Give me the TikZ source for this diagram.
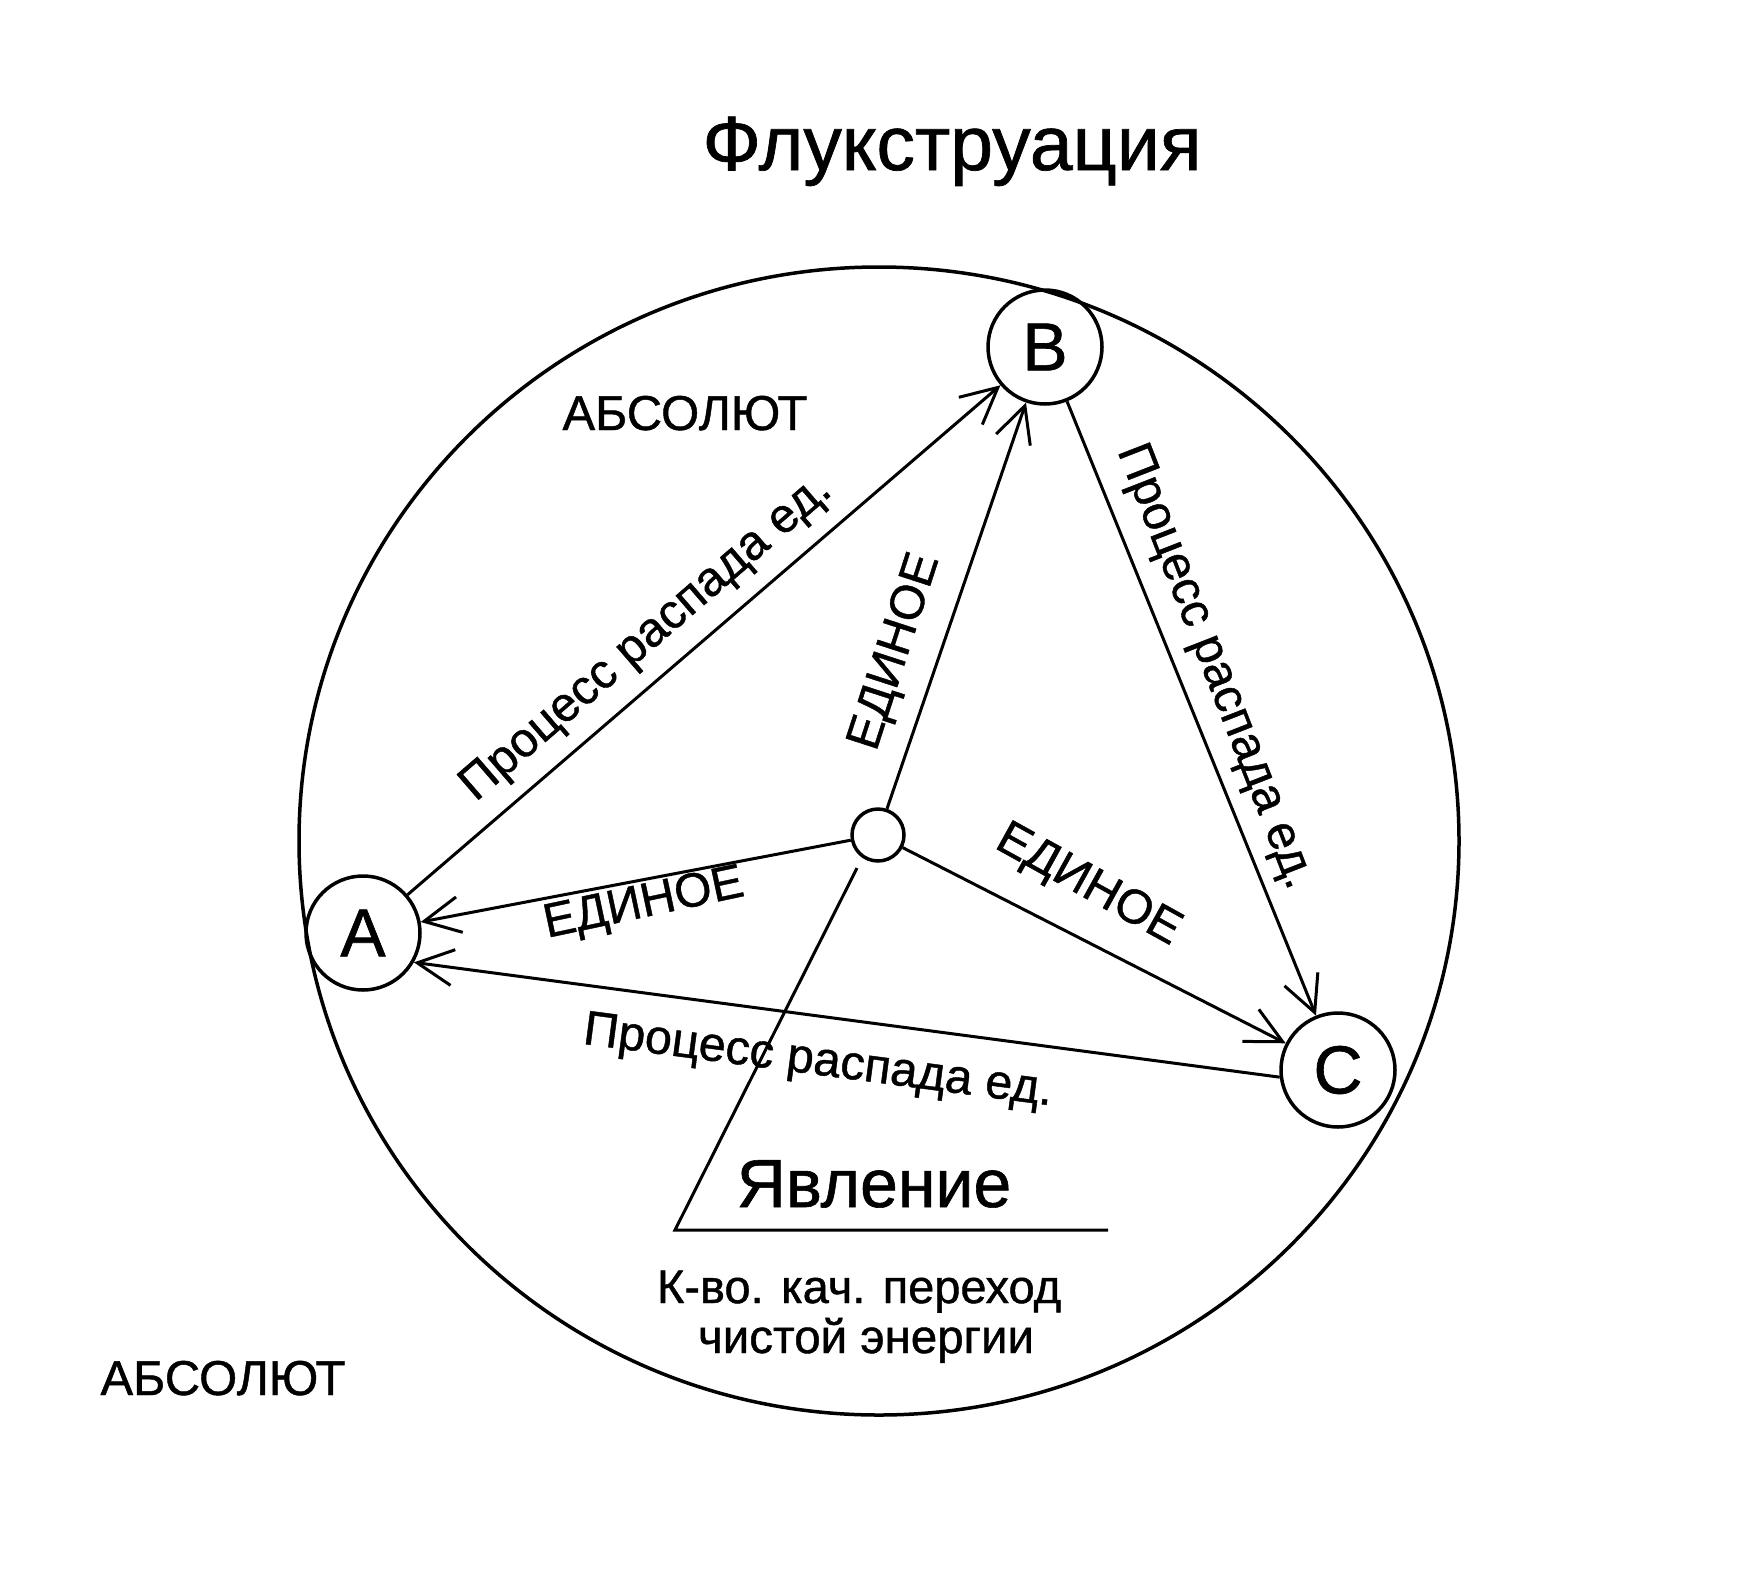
\documentclass[tikz,border=0pt]{standalone}
\usepackage{fontspec}
\setmainfont{Liberation Sans}[BoldFont=Liberation Sans,BoldFeatures={FakeBold=0.9}]
\usetikzlibrary{arrows.meta}
\begin{document}
\begin{tikzpicture}[x=1pt,y=-1pt,
  ln/.style={line width=3pt},
  arr/.style={ln,-{Straight Barb[length=36pt,width=36pt,line width=3pt]}},
  vert/.style={draw,circle,line width=3.5pt,minimum size=114pt,inner sep=0pt,font=\bfseries\fontsize{68}{68}\selectfont},
  lbl/.style={inner sep=0pt,font=\bfseries\fontsize{48.5}{48.5}\selectfont},
  eld/.style={inner sep=0pt,font=\bfseries\fontsize{48}{48}\selectfont},
  mid/.style={inner sep=0pt,font=\bfseries\fontsize{49}{49}\selectfont,anchor=base}]
\useasboundingbox (0,0) rectangle (1763,1592);
\fill[white] (0,0) rectangle (1763,1592);
\draw[line width=3.5pt] (879,841) ellipse [x radius=580, y radius=574];
\node[vert] (A) at (363,933) {A};
\node[vert] (B) at (1045,347) {B};
\node[vert] (C) at (1338,1070) {C};
\node[draw,circle,line width=3.5pt,minimum size=52pt,inner sep=0pt] (O) at (878,835) {};
\draw[arr] (A) -- (B);
\draw[arr] (O) -- (B);
\draw[arr] (B) -- (C);
\draw[arr] (O) -- (A);
\draw[arr] (O) -- (C);
\draw[arr] (C.187) -- (A.-30);
\coordinate (p1) at (857,868);
\coordinate (p2) at (675,1230);
\coordinate (p3) at (1108,1230);
\draw[ln] (p1) -- (p2) -- (p3);
\node[inner sep=0pt,font=\bfseries\fontsize{77}{77}\selectfont,anchor=base] (title) at (952,170) {Флукструация};
\node[mid] (abs1) at (685,430) {АБСОЛЮТ};
\node[mid] (abs2) at (223,1395) {АБСОЛЮТ};
\node[inner sep=0pt,font=\bfseries\fontsize{68}{68}\selectfont,anchor=base] (yav) at (874,1207) {Явление};
\node[mid,font=\bfseries\fontsize{47}{47}\selectfont] (k1) at (859,1303) {К-во. кач. переход};
\node[mid,font=\bfseries\fontsize{47.5}{47.5}\selectfont] (k2) at (866,1353) {чистой энергии};
\node[lbl,rotate=40.8] (lab) at (647,639) {Процесс распада ед.};
\node[lbl,rotate=-68.7] (lbc) at (1214,667) {Процесс распада ед.};
\node[lbl,rotate=-7.5] (lca) at (818,1063) {Процесс распада ед.};
\node[eld,rotate=72] (eb) at (896,652) {ЕДИНОЕ};
\node[eld,rotate=12] (ea) at (644,905) {ЕДИНОЕ};
\node[eld,rotate=-29] (ec) at (1088,886) {ЕДИНОЕ};
\end{tikzpicture}
\end{document}
